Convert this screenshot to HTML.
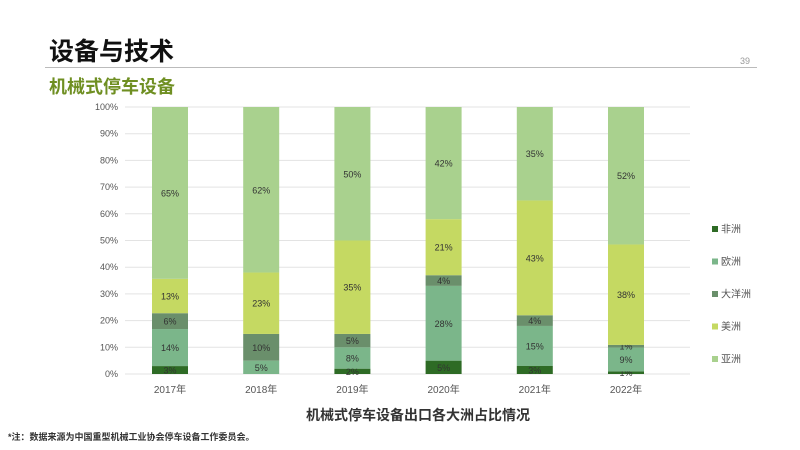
<!DOCTYPE html>
<html><head><meta charset="utf-8"><style>
body{margin:0;width:800px;height:450px;background:#fff;overflow:hidden;position:relative;font-family:"Liberation Sans","Noto Sans CJK SC",sans-serif}
.a{position:absolute;white-space:nowrap}
</style></head><body>
<div class="a" style="left:49px;top:32px;font-size:25px;font-weight:bold;color:#111">设备与技术</div>
<div class="a" style="left:740px;top:56px;font-size:9px;color:#999">39</div>
<div class="a" style="left:45px;top:67px;width:712px;height:1px;background:#bbb"></div>
<div class="a" style="left:49px;top:73px;font-size:18px;font-weight:bold;color:#6f8f22">机械式停车设备</div>
<svg class="a" style="left:0;top:0" width="800" height="450">
<g id="g"></g>
<text x="418" y="420" text-anchor="middle" font-size="14" font-weight="bold" fill="#333">机械式停车设备出口各大洲占比情况</text>
<text x="8" y="440" font-size="9" font-weight="bold" fill="#333">*注：数据来源为中国重型机械工业协会停车设备工作委员会。</text>
</svg>
<script>
const years=["2017年","2018年","2019年","2020年","2021年","2022年"];
const seriesNames=["非洲","欧洲","大洋洲","美洲","亚洲"];
const africa=[3,0,2,5,3,1];
const europe=[14,5,8,28,15,9];
const oceania=[6,10,5,4,4,1];
const america=[13,23,35,21,43,38];
const asia=[65,62,50,42,35,52];
const yTicks=[0,10,20,30,40,50,60,70,80,90,100];
const colors=["#2e6b25","#7bb68a","#6a8f6b","#c5d962","#a9d18e"];
const series=[africa,europe,oceania,america,asia];
const NS="http://www.w3.org/2000/svg",g=document.getElementById('g');
const y=v=>374-v*2.67, x=i=>170+i*91.2;
function mk(t,a){const e=document.createElementNS(NS,t);for(const k in a)e.setAttribute(k,a[k]);g.appendChild(e);return e;}
yTicks.forEach(t=>{
const l=mk('line',{x1:125,x2:690,y1:y(t),y2:y(t),stroke:'#e3e3e3','stroke-width':1});


const tx=mk('text',{x:118,y:y(t)+3,'text-anchor':'end','font-size':9,fill:'#555'});tx.textContent=t+'%';


});
years.forEach((yr,i)=>{
const tot=series.reduce((s,a)=>s+a[i],0);let acc=0;
series.forEach((s,k)=>{
const v=s[i]/tot*100;if(s[i]<=0)return;
const r=mk('rect',{x:x(i)-18,width:36,y:y(acc+v),height:v*2.67,fill:colors[k]});


const t=mk('text',{x:x(i),y:y(acc+v/2)+3.5,'text-anchor':'middle','font-size':9,fill:'#333'});t.textContent=s[i]+'%';


acc+=v;});
const t=mk('text',{x:x(i),y:393,'text-anchor':'middle','font-size':10,fill:'#555'});t.textContent=yr;


});
seriesNames.forEach((n,k)=>{
const yy=229+k*32.5;
const r=mk('rect',{x:712,y:yy-3,width:6,height:6,fill:colors[k]});


const t=mk('text',{x:721,y:yy+3.5,'font-size':10,fill:'#555'});t.textContent=n;


});
</script>
</body></html>
